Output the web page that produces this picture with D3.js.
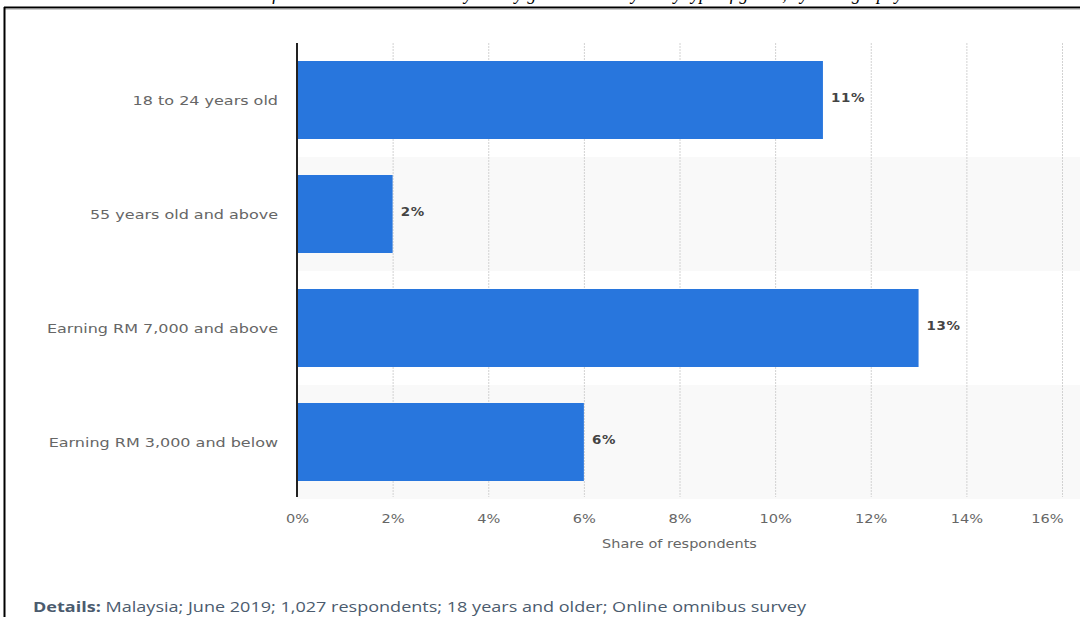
<!DOCTYPE html>
<html><head><meta charset="utf-8">
<script src="https://cdn.jsdelivr.net/npm/d3@7"></script>
<style>
html,body{margin:0;padding:0;background:#fff;}
svg{display:block;}
.v{font-family:'DejaVu Sans', Verdana, sans-serif;}
.o{font-family:'Open Sans', sans-serif;}
</style></head>
<body>
<svg id="c" width="1080" height="617"></svg>
<script>
const categories = ["18 to 24 years old","55 years old and above","Earning RM 7,000 and above","Earning RM 3,000 and below"];
const values = [11, 2, 13, 6];
const valueLabels = ["11%","2%","13%","6%"];
const ticks = [0,2,4,6,8,10,12,14,16];
const tickLabels = ["0%","2%","4%","6%","8%","10%","12%","14%","16%"];
const axisTitle = "Share of respondents";
const captionTitle = "Share of consumers who would buy luxury goods in Malaysia by type of goods, by demography";

const svg = d3.select("#c");
const W = 1080, H = 617;
const m = {left:297, right:1062, top:43, bottom:499};
const sx = 1.12;   // horizontal stretch of small labels
const sxc = 1.23;  // horizontal stretch of category labels

// frame
svg.append("line").attr("x1",4).attr("x2",W).attr("y1",7.5).attr("y2",7.5).attr("stroke","#000").attr("stroke-width",2);
svg.append("line").attr("x1",4).attr("x2",W).attr("y1",9).attr("y2",9).attr("stroke","#999").attr("stroke-width",1);
svg.append("line").attr("x1",4.5).attr("x2",4.5).attr("y1",7).attr("y2",H).attr("stroke","#000").attr("stroke-width",2);

// cut caption (its top lies outside the picture in the reference)
svg.append("text").attr("x",560).attr("y",0).attr("text-anchor","middle")
  .attr("font-family","Liberation Serif").attr("font-style","italic").attr("font-size",18)
  .attr("fill","#000").text(captionTitle);

const x = d3.scaleLinear().domain([0,16]).range([m.left, m.right]);
const y = d3.scaleBand().domain(categories).range([m.top, m.bottom]).paddingInner(0).paddingOuter(0);

// alternating band shading
svg.append("g").selectAll("rect").data(categories.filter((d,i)=>i%2===1)).join("rect")
  .attr("x", m.left).attr("width", W - m.left)
  .attr("y", d=>y(d)).attr("height", y.bandwidth()).attr("fill","#f9f9f9");

// gridlines
svg.append("g").selectAll("line").data(ticks.slice(1)).join("line")
  .attr("x1", d=>x(d)+0.5).attr("x2", d=>x(d)+0.5)
  .attr("y1", m.top).attr("y2", m.bottom - 2)
  .attr("stroke","#d2d2d2").attr("stroke-width",1).attr("stroke-dasharray","2,1");

// bars
const bh = 78;
svg.append("g").selectAll("rect").data(values).join("rect")
  .attr("x", x(0)).attr("width", d=>x(d)-x(0))
  .attr("y", (d,i)=>y(categories[i]) + (y.bandwidth()-bh)/2)
  .attr("height", bh).attr("fill","#2876dd");

// value labels
svg.append("g").selectAll("text").data(values).join("text").attr("class","v")
  .attr("transform",(d,i)=>`translate(${x(d)+8},${y(categories[i]) + y.bandwidth()/2 + 2}) scale(${sx},1)`)
  .attr("font-weight","bold").attr("font-size",12)
  .attr("letter-spacing",0.6).attr("fill","#444").text((d,i)=>valueLabels[i]);

// y axis line
svg.append("line").attr("x1",m.left).attr("x2",m.left).attr("y1",m.top).attr("y2",m.bottom-2)
  .attr("stroke","#222").attr("stroke-width",2);

// category labels
svg.append("g").selectAll("text").data(categories).join("text").attr("class","v")
  .attr("transform", d=>`translate(278,${y(d)+y.bandwidth()/2+5}) scale(${sxc},1)`)
  .attr("text-anchor","end").attr("font-size",13)
  .attr("fill","#666").text(d=>d);

// x tick labels via axis
const xAxis = d3.axisBottom(x).tickValues(ticks).tickFormat((d,i)=>tickLabels[i]).tickSize(0).tickPadding(0);
const gx = svg.append("g").attr("transform",`translate(0,${m.bottom+24})`).call(xAxis);
gx.select(".domain").remove();
gx.attr("font-family",null).attr("font-size",null);
gx.selectAll("text").attr("class","v").attr("font-size",13).attr("fill","#666").attr("dy","0")
  .attr("transform",`scale(${sx},1)`);
// last label is pulled inside the plot, right-aligned to its gridline
gx.selectAll(".tick").filter((d,i,n)=>i===n.length-1).select("text")
  .attr("text-anchor","end").attr("x",1);

svg.append("text").attr("class","v").attr("transform",`translate(${(m.left+m.right)/2},548) scale(1.26,1)`).attr("text-anchor","middle")
  .attr("font-size",11.5).attr("fill","#666").text(axisTitle);

// details
const dt = svg.append("text").attr("class","o").attr("transform",`translate(33,612) scale(1.245,1)`).attr("font-size",14.5).attr("fill","#4b5b6e");
dt.append("tspan").attr("font-weight","bold").text("Details:");
dt.append("tspan").text(" Malaysia; June 2019; 1,027 respondents; 18 years and older; Online omnibus survey");
</script>
</body></html>
